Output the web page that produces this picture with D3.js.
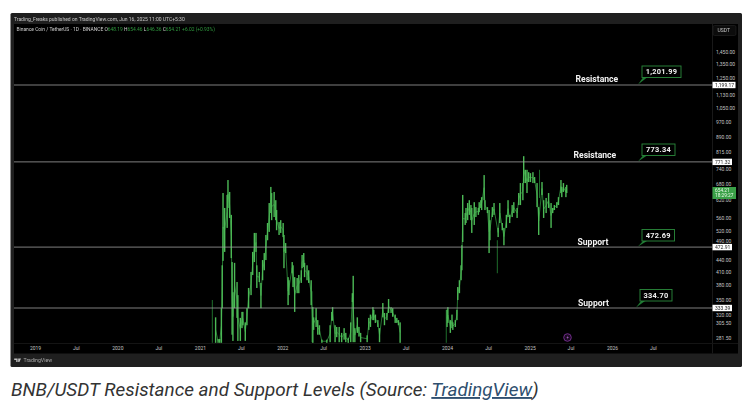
<!DOCTYPE html>
<html><head><meta charset="utf-8">
<script src="https://cdn.jsdelivr.net/npm/d3@7"></script>
<style>html,body{margin:0;padding:0;background:#fff}svg{display:block}</style>
</head><body><svg id="c" width="752" height="413"></svg>
<script>
const barYears=[2021.19,2021.22,2021.24,2021.26,2021.27,2021.28,2021.30,2021.33,2021.34,2021.36,2021.38,2021.39,2021.40,2021.42,2021.45,2021.46,2021.49,2021.51,2021.52,2021.55,2021.57,2021.59,2021.62,2021.64,2021.66,2021.68,2021.69,2021.72,2021.74,2021.76,2021.78,2021.80,2021.82,2021.84,2021.86,2021.87,2021.90,2021.92,2021.93,2021.96,2021.98,
2022.01,2022.02,2022.04,2022.07,2022.08,2022.12,2022.13,2022.15,2022.18,2022.20,2022.23,2022.24,2022.26,2022.27,2022.30,2022.32,2022.35,2022.37,2022.38,2022.41,2022.43,2022.45,2022.48,2022.54,2022.58,2022.60,2022.61,2022.64,2022.66,2022.69,2022.72,2022.75,2022.77,2022.80,2022.83,2022.85,2022.86,2022.88,2022.91,2022.93,2022.95,
2023.03,2023.05,2023.07,2023.10,2023.11,2023.13,2023.16,2023.18,2023.22,2023.24,2023.27,2023.29,2023.32,2023.34,2023.37,2023.39,2023.41,2023.43,
2024.00,2024.01,2024.04,2024.06,2024.07,2024.10,2024.12,2024.13,2024.15,2024.17,2024.18,2024.19,2024.22,2024.23,2024.25,2024.27,2024.29,2024.30,2024.33,2024.35,2024.38,2024.39,2024.41,2024.42,2024.45,2024.46,2024.49,2024.51,2024.52,2024.55,2024.57,2024.62,2024.64,2024.67,2024.69,2024.72,2024.74,2024.76,2024.79,2024.81,2024.85,2024.87,2024.89,2024.92,2024.93,2024.95,2024.97,2024.99,
2025.01,2025.04,2025.06,2025.09,2025.11,2025.15,2025.17,2025.20,2025.23,2025.26,2025.28,2025.30,2025.33,2025.35,2025.38,2025.39,2025.41,2025.44,2025.45];
const barHighs=[316,279,279,333,426,645,592,638,695,649,569,434,365,432,387,359,315,326,326,307,333,374,410,460,513,513,426,410,385,439,457,507,543,609,668,645,649,619,585,546,552,
543,507,484,398,391,434,426,398,396,403,414,452,457,432,426,414,391,335,316,333,311,302,278,278,302,326,335,302,299,299,289,297,289,281,307,363,401,297,316,299,289,
285,315,321,335,330,321,311,297,343,324,324,351,335,333,321,315,311,307,
330,335,311,321,307,311,330,376,391,426,478,638,575,592,609,619,602,592,612,595,592,612,619,630,715,619,595,585,552,595,609,528,609,543,528,569,619,569,602,612,592,645,683,683,797,737,737,727,
723,727,707,683,595,687,619,627,645,609,592,602,612,630,695,668,683,668,676];
const barLows=[273,273,273,273,333,437,460,528,592,559,444,286,276,333,315,276,276,297,302,276,302,333,359,403,434,460,374,387,333,391,414,439,492,516,575,552,562,552,521,507,513,
501,419,457,339,359,407,376,326,363,363,385,419,422,398,391,385,339,273,294,299,286,286,273,273,274,310,310,274,282,274,274,278,274,273,274,345,274,274,289,283,274,
274,294,299,311,311,306,299,274,316,302,311,324,324,317,306,306,302,273,
299,306,289,297,294,299,311,349,363,391,414,487,537,543,552,569,552,513,537,562,569,578,592,585,619,585,575,457,492,562,569,501,543,521,478,528,562,543,562,575,559,602,602,619,683,683,645,687,
687,683,683,595,507,638,559,575,592,528,575,585,592,602,645,630,649,630,645];
const wickYears=[2021.15,2022.36,2023.99,2024.61,2025.12];
const wickHighs=[349,367,330,492,737];
const wickLows=[273,274,273,407,627];

const priceTicks=[1450,1350,1250,1130,1050,970,890,815,740,680,620,560,520,490,440,410,380,350,320,305.5,281.5];
const timeTickYears=[2019,2019.5,2020,2020.5,2021,2021.5,2022,2022.5,2023,2023.5,2024,2024.5,2025,2025.5,2026,2026.5];
const timeTickLabels=["2019","Jul","2020","Jul","2021","Jul","2022","Jul","2023","Jul","2024","Jul","2025","Jul","2026","Jul"];

const levelPrices=[1199.17,771.32,472.91,333.39];
const levelTags=["1,199.17","771.32","472.91","333.39"];
const levelNames=["Resistance","Resistance","Support","Support"];
const calloutTexts=["1,201.99","773.34","472.69","334.70"];
const lastPrice=654.21;

const FONT="Roboto, 'Open Sans', sans-serif";
const toDate=y=>{const f=Math.floor(y);return new Date(Date.UTC(f,Math.round((y-f)*12),1));};
const barDate=y=>{const f=Math.floor(y);return new Date(Date.UTC(f,0,1)+(y-f)*365.25*864e5);};
const x=d3.scaleUtc().domain([new Date(Date.UTC(2019,0,1)),new Date(Date.UTC(2026,0,1))]).range([35,612]);
const y=d3.scaleLog().domain([333.39,1199.17]).range([308,85]);

const svg=d3.select("#c").style("font-family",FONT);
const root=svg.append("g").style("filter","blur(0.4px)");
root.append("rect").attr("x",10.5).attr("y",13).attr("width",731.5).attr("height",354).attr("rx",1.5).attr("fill","#1f1f1f");
root.append("rect").attr("x",14).attr("y",24).attr("width",724).attr("height",329.5).attr("fill","#000");
root.append("line").attr("x1",712.5).attr("x2",712.5).attr("y1",24).attr("y2",353.5).attr("stroke","#191919");
root.append("line").attr("x1",14).attr("x2",738).attr("y1",343.5).attr("y2",343.5).attr("stroke","#141414");

root.append("defs").append("clipPath").attr("id","plot").append("rect").attr("x",14).attr("y",24).attr("width",698).attr("height",319);
const plot=root.append("g").attr("clip-path","url(#plot)");
plot.selectAll(".w").data(wickYears).join("line").attr("class","w")
  .attr("x1",d=>x(barDate(d))).attr("x2",d=>x(barDate(d)))
  .attr("y1",(d,i)=>y(wickHighs[i])).attr("y2",(d,i)=>y(wickLows[i]))
  .attr("stroke","#1f6e2c").attr("stroke-width",1);

// thin trace through the bars, broken over the empty stretch of the series
const idx=d3.range(barYears.length);
[idx.filter(i=>barYears[i]<2024),idx.filter(i=>barYears[i]>=2024)].forEach(seg=>{
  plot.append("path").attr("fill","none").attr("stroke","#2f8f3c").attr("stroke-width",.8)
    .attr("d",d3.line().x(i=>x(barDate(barYears[i]))).y(i=>y(Math.sqrt(barHighs[i]*barLows[i])))(seg));
});
plot.selectAll(".b").data(barYears).join("rect").attr("class","b")
  .attr("x",d=>x(barDate(d))-0.7).attr("width",1.4)
  .attr("y",(d,i)=>y(barHighs[i])).attr("height",(d,i)=>y(barLows[i])-y(barHighs[i]))
  .attr("fill","#4cba56");

root.selectAll(".lvl").data(levelPrices).join("line").attr("class","lvl")
  .attr("x1",14).attr("x2",712).attr("y1",d=>y(d)).attr("y2",d=>y(d))
  .attr("stroke","#a0a0a0").attr("stroke-width",.8);

// axes
const ya=root.append("g").attr("transform","translate(712.5,0)")
  .call(d3.axisRight(y).tickValues(priceTicks).tickFormat(d3.format(",.2f")).tickSize(0).tickPadding(3.5));
ya.select(".domain").remove();
ya.selectAll("text").attr("fill","#c4c4c4").style("font-size","5px").style("font-family",FONT);
const xa=root.append("g").attr("transform","translate(0,344)")
  .call(d3.axisBottom(x).tickValues(timeTickYears.map(toDate)).tickFormat((d,i)=>timeTickLabels[i]).tickSize(0).tickPadding(2));
xa.select(".domain").remove();
xa.selectAll("text").attr("fill","#c4c4c4").style("font-size","5px").style("font-family",FONT);

// header
root.append("text").attr("x",14).attr("y",20.6).attr("fill","#c8c8c8").style("font-size","5px")
  .text("Trading_Freaks published on TradingView.com, Jun 16, 2025 11:00 UTC+5:30");
const lg=root.append("text").attr("x",16.5).attr("y",31.4).style("font-size","4.9px");
lg.append("tspan").attr("fill","#d0d0d0").text("Binance Coin / TetherUS · 1D · BINANCE  ");
[["O","648.19"],["H","654.46"],["L","646.36"],["C","654.21"]].forEach(p=>{
  lg.append("tspan").attr("fill","#d0d0d0").text(p[0]);
  lg.append("tspan").attr("fill","#2f9a3e").text(p[1]+"  ");
});
lg.append("tspan").attr("fill","#2f9a3e").text("+6.02 (+0.93%)");

// USDT box
root.append("rect").attr("x",713).attr("y",25.5).attr("width",23).attr("height",10).attr("rx",1.5).attr("fill","#0c0c0c").attr("stroke","#2a2a2a").attr("stroke-width",.5);
root.append("text").attr("x",717.5).attr("y",32.4).attr("fill","#c8c8c8").style("font-size","5px").text("USDT");

// price tags
const tags=root.selectAll(".tag").data(levelPrices).join("g").attr("class","tag");
tags.append("rect").attr("x",712.5).attr("width",(d,i)=>i==0?23:19.5).attr("y",d=>y(d)-3.2).attr("height",6.4).attr("fill","#fff");
tags.append("text").attr("x",715).attr("y",d=>y(d)+1.8).attr("fill","#222").style("font-size","5px").text((d,i)=>levelTags[i]);
root.append("rect").attr("x",712.5).attr("y",187).attr("width",23.5).attr("height",12).attr("fill","#3aa047");
root.append("text").attr("x",715).attr("y",192).attr("fill","#eafbe9").style("font-size","4.8px").text(d3.format(".2f")(lastPrice));
root.append("text").attr("x",715).attr("y",197.3).attr("fill","#eafbe9").style("font-size","4.8px").text("18:29:27");

// annotations
const nameX=[575.5,573.5,577.5,578],nameY=[81.5,158,244.5,305.5];
const boxX=[642,642,642,640],boxW=[39,33,32.5,32],boxY=[66,144,229.5,289.5];
levelPrices.forEach((p,i)=>{
  root.append("text").attr("x",nameX[i]).attr("y",nameY[i]).attr("fill","#f2f2f2").style("font-size","8.6px").style("font-weight","700").text(levelNames[i]);
  const g=root.append("g");
  g.append("path").attr("d",`M${boxX[i]-4},${y(p)-0.5} L${boxX[i]+1},${boxY[i]+11.5} L${boxX[i]+5},${boxY[i]+11.5} Z`).attr("fill","#1f7a33");
  g.append("rect").attr("x",boxX[i]).attr("y",boxY[i]).attr("width",boxW[i]).attr("height",11.5).attr("fill","#000").attr("stroke","#2a8a3c").attr("stroke-width",.9);
  g.append("text").attr("x",boxX[i]+boxW[i]/2).attr("y",boxY[i]+8.3).attr("text-anchor","middle").attr("fill","#f0f0f0").style("font-size","7.4px").style("font-weight","700").style("letter-spacing",".25px").text(calloutTexts[i]);
});

// lightning marker
root.append("circle").attr("cx",567.5).attr("cy",337.5).attr("r",3.8).attr("fill","#1a0a20").attr("stroke","#7a2f96").attr("stroke-width",.9);
root.append("path").attr("d","M568.3,335 L566.4,338 L567.6,338 L566.8,340 L568.8,337 L567.6,337 Z").attr("fill","#9a55b5");

// TV footer
root.append("path").attr("d","M14.2,358.5 h3.4 v3.6 h-1.4 v-2.2 h-2 Z M18.2,358.5 h2.8 l-1.6,3.6 h-1.2 Z").attr("fill","#bdbdbd");
root.append("text").attr("x",23.5).attr("y",362).attr("fill","#a9a9a9").style("font-size","5.2px").text("TradingView");

// caption
const cap=svg.append("text").attr("x",11).attr("y",396).style("font-size","18.9px").style("font-style","italic").attr("fill","#333").style("font-family","Roboto");
cap.append("tspan").text("BNB/USDT Resistance and Support Levels (Source: ");
cap.append("tspan").attr("fill","#2f4f6f").style("text-decoration","underline").text("TradingView");
cap.append("tspan").text(")");
</script></body></html>
